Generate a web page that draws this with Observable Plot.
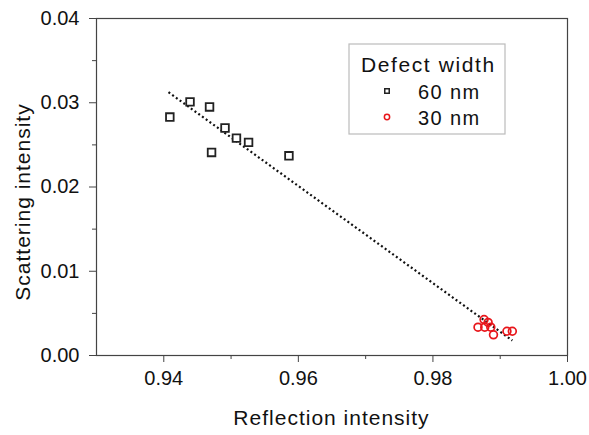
<!DOCTYPE html>
<html><head><meta charset="utf-8">
<script src="https://cdn.jsdelivr.net/npm/d3@7"></script>
<script src="https://cdn.jsdelivr.net/npm/@observablehq/plot@0.6"></script>
<style>body{margin:0;background:#fff} #chart svg{font-family:"Liberation Sans",Arial,sans-serif;overflow:visible}</style>
</head><body><div id="chart"></div>
<script>
// Defect width 60 nm
const reflection60 = [0.9409, 0.9439, 0.9468, 0.9491, 0.9508, 0.9526, 0.9471, 0.9586];
const scattering60 = [0.0283, 0.0301, 0.0295, 0.0270, 0.0258, 0.0253, 0.0241, 0.0237];
// Defect width 30 nm
const reflection30 = [0.9876, 0.9867, 0.9877, 0.9886, 0.9882, 0.9890, 0.9910, 0.9918];
const scattering30 = [0.00427, 0.00336, 0.00336, 0.00336, 0.00392, 0.00246, 0.00288, 0.00288];
// Linear fit endpoints
const fitReflection = [0.9407, 0.9918];
const fitScattering = [0.03125, 0.00178];
const xTicks = [0.94, 0.96, 0.98, 1.00];
const xMinorTicks = [0.95, 0.97, 0.99];
const yTicks = [0, 0.01, 0.02, 0.03, 0.04];
const yMinorTicks = [0.005, 0.015, 0.025, 0.035];
const seriesNames = ["60 nm", "30 nm"];
const seriesColors = ["#222222", "#e8161b"];
const legendTitle = "Defect width";
const xLabel = "Reflection intensity";
const yLabel = "Scattering intensity";

const d60 = reflection60.map((r, i) => ({r, s: scattering60[i]}));
const d30 = reflection30.map((r, i) => ({r, s: scattering30[i]}));
const fit = fitReflection.map((r, i) => ({r, s: fitScattering[i]}));

const W = 589, H = 435, mL = 96, mR = 22, mT = 18, mB = 80;
const axisColor = "#444";

const plot = Plot.plot({
  width: W, height: H,
  marginLeft: mL, marginRight: mR, marginTop: mT, marginBottom: mB,
  x: {domain: [0.93, 1.00]},
  y: {domain: [0, 0.04]},
  marks: [
    Plot.frame({stroke: axisColor, strokeWidth: 1.2}),
    Plot.axisX({ticks: xTicks, tickFormat: d3.format(".2f"), tickSize: 7, tickPadding: 8, fontSize: 20, stroke: axisColor, fill: "#111", label: null}),
    Plot.axisX({ticks: xMinorTicks, tickFormat: () => "", tickSize: 4, stroke: axisColor, label: null}),
    Plot.axisY({ticks: yTicks, tickFormat: d3.format(".2f"), tickSize: 7, tickPadding: 10, fontSize: 20, stroke: axisColor, fill: "#111", label: null}),
    Plot.axisY({ticks: yMinorTicks, tickFormat: () => "", tickSize: 4, stroke: axisColor, label: null}),
    Plot.line(fit, {x: "r", y: "s", stroke: "#111", strokeWidth: 2.2, strokeDasharray: "2,2.6", strokeLinecap: "butt"}),
    Plot.dot(d60, {x: "r", y: "s", symbol: "square", r: 4.3, stroke: seriesColors[0], strokeWidth: 1.8, fill: "white"}),
    Plot.dot(d30, {x: "r", y: "s", symbol: "circle", r: 3.9, stroke: seriesColors[1], strokeWidth: 1.7, fill: "none"})
  ]
});
document.getElementById("chart").appendChild(plot);

const svg = d3.select(plot);
svg.append("text").attr("x", (mL + W - mR) / 2).attr("y", 425)
  .attr("text-anchor", "middle").attr("font-size", 21).attr("letter-spacing", 1).attr("fill", "#111").text(xLabel);
svg.append("text").attr("transform", `translate(30,202) rotate(-90)`)
  .attr("text-anchor", "middle").attr("font-size", 21).attr("letter-spacing", 1).attr("fill", "#111").text(yLabel);

const lg = svg.append("g").attr("text-anchor", "start");
lg.append("rect").attr("x", 349).attr("y", 44).attr("width", 156).attr("height", 90)
  .attr("fill", "white").attr("stroke", "#bbb").attr("stroke-width", 1.2);
lg.append("text").attr("x", 361).attr("y", 72).attr("font-size", 21).attr("letter-spacing", 1.6).attr("fill", "#111").text(legendTitle);
const symbols = [d3.symbolSquare, d3.symbolCircle];
seriesNames.forEach((name, i) => {
  const y = 91 + i * 26;
  lg.append("path").attr("d", d3.symbol(symbols[i], i === 0 ? 20 : 22)())
    .attr("transform", `translate(387,${y})`)
    .attr("fill", i === 0 ? "white" : "none").attr("stroke", seriesColors[i]).attr("stroke-width", 1.5);
  lg.append("text").attr("x", 418).attr("y", y + 8).attr("font-size", 20).attr("letter-spacing", 1.4).attr("fill", "#111").text(name);
});
</script></body></html>
